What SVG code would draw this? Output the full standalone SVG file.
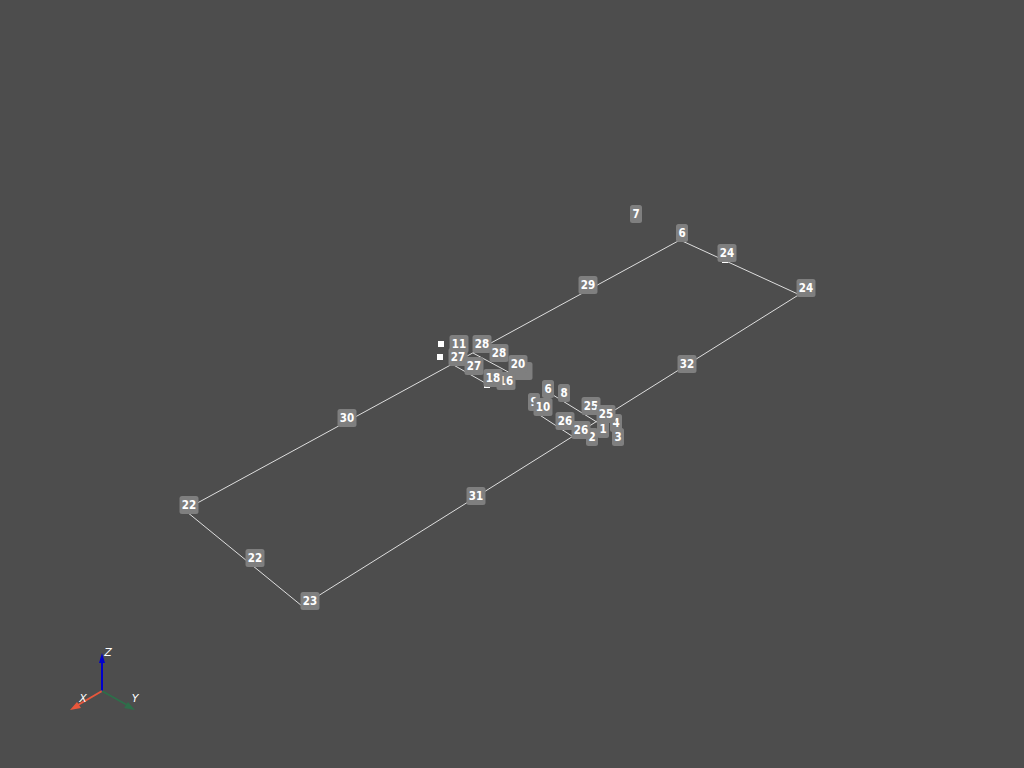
<svg xmlns="http://www.w3.org/2000/svg" width="1024" height="768" viewBox="0 0 1024 768">
<style>
.bg{fill:#4d4d4d}
.c line{stroke:#dedede;stroke-width:1;fill:none}
.n use{fill:#7f7f7f}
.n text{font-family:"DejaVu Sans",sans-serif;font-stretch:condensed;font-size:11.5px;font-weight:bold;fill:#fff;text-anchor:middle}
.w{fill:#fff}
.a text{font-family:"DejaVu Sans",sans-serif;font-size:11px;font-style:italic;fill:#fff;text-anchor:middle}
</style>
<defs>
<rect id="w2" x="-9.5" y="-9" width="19" height="18" rx="2.5"/>
<rect id="w1" x="-6" y="-9" width="12" height="18" rx="2.5"/>
</defs>
<rect class="bg" width="1024" height="768"/>
<g id="connectors" class="c">
<line x1="187" y1="512" x2="302" y2="606"/>
<line x1="302" y1="606" x2="800" y2="294"/>
<line x1="800" y1="295" x2="680" y2="240"/>
<line x1="680" y1="240" x2="190" y2="507"/>
<line x1="450" y1="363" x2="487" y2="384"/>
<line x1="473" y1="353" x2="512" y2="374"/>
<line x1="535" y1="412" x2="575" y2="438"/>
<line x1="553" y1="395" x2="600" y2="424"/>
</g>
<g id="markers">
<rect class="w" x="438" y="341" width="6" height="6"/>
<rect class="w" x="437" y="354" width="6" height="6"/>
<rect class="w" x="722" y="261" width="6" height="2"/>
<rect class="w" x="484" y="386" width="6" height="2"/>
</g>
<g id="n7" class="n" transform="translate(636,214)"><use href="#w1"/><text y="4">7</text></g>
<g id="n6a" class="n" transform="translate(682,233)"><use href="#w1"/><text y="4">6</text></g>
<g id="n24a" class="n" transform="translate(727,253)"><use href="#w2"/><text y="4">24</text></g>
<g id="n24b" class="n" transform="translate(806,288)"><use href="#w2"/><text y="4">24</text></g>
<g id="n29" class="n" transform="translate(588,285)"><use href="#w2"/><text y="4">29</text></g>
<g id="n32" class="n" transform="translate(687,364)"><use href="#w2"/><text y="4">32</text></g>
<g id="n31" class="n" transform="translate(476,496)"><use href="#w2"/><text y="4">31</text></g>
<g id="n30" class="n" transform="translate(347,418)"><use href="#w2"/><text y="4">30</text></g>
<g id="n22a" class="n" transform="translate(189,505)"><use href="#w2"/><text y="4">22</text></g>
<g id="n22b" class="n" transform="translate(255,558)"><use href="#w2"/><text y="4">22</text></g>
<g id="n23" class="n" transform="translate(310,601)"><use href="#w2"/><text y="4">23</text></g>
<g id="n11" class="n" transform="translate(459,344)"><use href="#w2"/><text y="4">11</text></g>
<g id="n28a" class="n" transform="translate(482,344)"><use href="#w2"/><text y="4">28</text></g>
<g id="n27a" class="n" transform="translate(458,357)"><use href="#w2"/><text y="4">27</text></g>
<g id="n28b" class="n" transform="translate(499,353)"><use href="#w2"/><text y="4">28</text></g>
<g id="n27b" class="n" transform="translate(474,366)"><use href="#w2"/><text y="4">27</text></g>
<g id="n19" class="n" transform="translate(523,371)"><use href="#w2"/></g>
<g id="n20" class="n" transform="translate(518,364)"><use href="#w2"/><text y="4">20</text></g>
<g id="n16" class="n" transform="translate(506,381)"><use href="#w2"/><text y="4">16</text></g>
<g id="n18" class="n" transform="translate(493,378)"><use href="#w2"/><text y="4">18</text></g>
<g id="n6b" class="n" transform="translate(548,389)"><use href="#w1"/><text y="4">6</text></g>
<g id="n8" class="n" transform="translate(564,393)"><use href="#w1"/><text y="4">8</text></g>
<g id="n9" class="n" transform="translate(534,402)"><use href="#w1"/><text y="4">9</text></g>
<g id="n10" class="n" transform="translate(543,407)"><use href="#w2"/><text y="4">10</text></g>
<g id="n4" class="n" transform="translate(616,423)"><use href="#w1"/><text y="4">4</text></g>
<g id="n25a" class="n" transform="translate(591,406)"><use href="#w2"/><text y="4">25</text></g>
<g id="n25b" class="n" transform="translate(606,414)"><use href="#w2"/><text y="4">25</text></g>
<g id="n26a" class="n" transform="translate(565,421)"><use href="#w2"/><text y="4">26</text></g>
<g id="n3" class="n" transform="translate(618,437)"><use href="#w1"/><text y="4">3</text></g>
<g id="n2" class="n" transform="translate(592,437)"><use href="#w1"/><text y="4">2</text></g>
<g id="n26b" class="n" transform="translate(581,430)"><use href="#w2"/><text y="4">26</text></g>
<g id="n1" class="n" transform="translate(603,429)"><use href="#w1"/><text y="4">1</text></g>
<g id="axes" class="a">
<line x1="102" y1="691" x2="102" y2="660" stroke="#0000cc" stroke-width="2"/>
<polygon points="102,653 105,663 99,663" fill="#0000cc"/>
<line x1="102" y1="691" x2="78" y2="705" stroke="#e8573c" stroke-width="2"/>
<polygon points="70,710 77,702 81,708" fill="#e8573c"/>
<line x1="102" y1="691" x2="127" y2="705" stroke="#2e6e4a" stroke-width="2"/>
<polygon points="135,710 124,708 128,702" fill="#2e6e4a"/>
<text x="108" y="656">Z</text>
<text x="83" y="702">X</text>
<text x="135" y="702">Y</text>
</g>
</svg>
